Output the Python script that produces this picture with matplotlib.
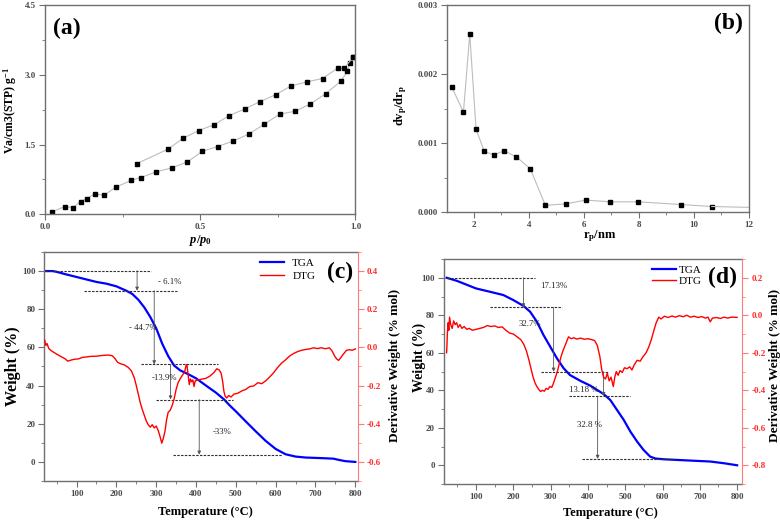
import matplotlib
matplotlib.use('Agg')
import matplotlib.pyplot as plt
import matplotlib.ticker as ticker

plt.rcParams['font.family'] = 'Liberation Serif'
plt.rcParams['font.weight'] = 'bold'
plt.rcParams['axes.labelweight'] = 'bold'
plt.rcParams['mathtext.fontset'] = 'custom'
plt.rcParams['mathtext.rm'] = 'Liberation Serif:bold'
plt.rcParams['mathtext.it'] = 'Liberation Serif:bold:italic'
plt.rcParams['mathtext.bf'] = 'Liberation Serif:bold'

# (a) N2 isotherm
p_ads = [0.024, 0.064, 0.090, 0.115, 0.134, 0.160, 0.190, 0.228, 0.278, 0.309, 0.358, 0.408,
         0.459, 0.507, 0.556, 0.607, 0.656, 0.706, 0.756, 0.806, 0.855, 0.905, 0.954, 0.974,
         0.982, 0.993]
v_ads = [0.057, 0.165, 0.144, 0.273, 0.337, 0.438, 0.409, 0.581, 0.732, 0.790, 0.912, 0.998,
         1.127, 1.357, 1.457, 1.579, 1.723, 1.938, 2.154, 2.218, 2.376, 2.599, 2.871, 3.080,
         3.252, 3.388]
p_des = [0.993, 0.964, 0.944, 0.894, 0.844, 0.793, 0.744, 0.693, 0.644, 0.594, 0.544, 0.495,
         0.445, 0.396, 0.296]
v_des = [3.388, 3.144, 3.151, 2.922, 2.850, 2.764, 2.577, 2.426, 2.268, 2.125, 1.924, 1.802,
         1.637, 1.400, 1.091]

# (b) pore size distribution
r_p = [1.20, 1.62, 1.85, 2.08, 2.38, 2.72, 3.10, 3.55, 4.05, 4.60, 5.34, 6.07, 6.94, 7.98,
       9.55, 10.65]
dv_p = [0.00181, 0.00145, 0.00258, 0.00120, 0.00088, 0.00083, 0.00089, 0.00080, 0.00063,
        0.00010, 0.00012, 0.000175, 0.00015, 0.00015, 0.00011, 0.000082]
r_tail = [10.65, 12.5]
dv_tail = [0.000082, 0.000065]

# (c) TGA / DTG
T_tga_c = [20, 40, 50, 75, 100, 125, 150, 175, 200, 225, 240, 255, 270, 285, 300, 315, 330,
           345, 360, 380, 400, 425, 450, 470, 485, 500, 525, 550, 575, 600, 625, 650, 675,
           700, 725, 745, 760, 775, 800]
w_tga_c = [100, 100, 99.6, 98.2, 96.9, 95.6, 94.3, 93.4, 92.0, 89.7, 88.0, 85.0, 81.0, 76.0,
           70.0, 62.0, 55.5, 50.5, 48.0, 46.0, 43.8, 40.0, 36.3, 32.8, 29.5, 26.5, 21.2, 16.0,
           11.0, 6.8, 4.0, 2.8, 2.3, 2.1, 1.9, 1.7, 1.0, 0.4, 0.0]
T_dtg_c = [20, 23, 26, 30, 35, 40, 50, 60, 70, 78, 85, 95, 105, 115, 125, 135, 150, 165, 180,
           190, 197, 203, 210, 220, 230, 238, 245, 250, 255, 260, 265, 270, 275, 280, 285, 290,
           295, 300, 305, 310, 314, 318, 322, 326, 330, 335, 340, 345, 350, 355, 360, 366, 371,
           375, 377, 380, 383, 386, 389, 392, 395, 398, 402, 407, 415, 425, 435, 445, 452, 458,
           463, 467, 470, 473, 477, 482, 488, 495, 505, 515, 525, 535, 545, 555, 565, 575, 585,
           595, 605, 615, 625, 635, 645, 655, 665, 675, 685, 695, 705, 715, 725, 735, 742, 748,
           753, 758, 763, 770, 778, 785, 792, 800]
d_dtg_c = [0.038, 0.010, 0.020, -0.005, -0.015, -0.022, -0.035, -0.047, -0.058, -0.072, -0.067,
           -0.062, -0.060, -0.052, -0.050, -0.047, -0.046, -0.042, -0.040, -0.044, -0.060,
           -0.078, -0.085, -0.092, -0.105, -0.124, -0.160, -0.200, -0.245, -0.290, -0.325,
           -0.355, -0.385, -0.405, -0.418, -0.405, -0.422, -0.412, -0.435, -0.470, -0.502,
           -0.475, -0.440, -0.380, -0.340, -0.330, -0.305, -0.270, -0.220, -0.185, -0.165,
           -0.145, -0.130, -0.095, -0.090, -0.140, -0.195, -0.165, -0.180, -0.170, -0.205,
           -0.175, -0.172, -0.170, -0.166, -0.162, -0.150, -0.132, -0.112, -0.118, -0.135,
           -0.180, -0.230, -0.255, -0.265, -0.252, -0.260, -0.245, -0.240, -0.228, -0.220,
           -0.205, -0.202, -0.185, -0.190, -0.175, -0.155, -0.132, -0.105, -0.082, -0.065,
           -0.045, -0.032, -0.022, -0.015, -0.011, -0.008, -0.002, -0.006, -0.002, -0.007,
           -0.002, -0.020, -0.045, -0.060, -0.068, -0.055, -0.035, -0.015, -0.012, -0.015,
           -0.008]
# mass-loss steps: (T of arrow, W from, W to) and dotted levels (W, T from, T to)
steps_c = [(252, 100.2, 89.7), (295, 89.7, 51.1), (336, 51.1, 32.7), (408, 32.7, 3.8)]
levels_c = [(100.2, 20, 288), (89.7, 118, 351), (51.1, 263, 456), (32.7, 300, 494), (3.8, 343, 615)]
labels_c = ['- 6.1%', '- 44.7%', '-13.9%', '-33%']
label_pos_c = [(305, 94.3), (232, 70.4), (288, 43.8), (443, 15.5)]

# (d) TGA / DTG
T_tga_d = [21, 48, 100, 138, 173, 200, 227, 245, 263, 281, 299, 317, 335, 352, 379, 406, 442,
           460, 478, 496, 514, 532, 549, 567, 581, 603, 675, 728, 764, 800]
w_tga_d = [100, 98.4, 94.3, 92.5, 90.8, 88.1, 85.0, 81.9, 76.6, 69.4, 63.2, 57.0, 51.7, 48.1,
           45.1, 42.5, 38.0, 34.8, 29.5, 24.2, 17.9, 12.6, 8.2, 4.6, 3.6, 3.2, 2.5, 2.0, 1.1, 0.0]
T_dtg_d = [21, 22, 23, 25, 27, 29, 32, 36, 40, 44, 48, 52, 57, 62, 68, 75, 82, 90, 100, 110,
           120, 130, 140, 150, 160, 170, 180, 190, 200, 210, 220, 228, 235, 242, 248, 253, 258,
           263, 268, 273, 278, 283, 288, 293, 298, 303, 308, 313, 318, 323, 328, 333, 338, 343,
           348, 355, 362, 370, 380, 390, 400, 410, 418, 425, 432, 437, 442, 447, 452, 457, 462,
           468, 472, 476, 481, 486, 492, 498, 505, 512, 518, 524, 532, 540, 548, 556, 563, 570,
           577, 583, 590, 596, 605, 615, 625, 635, 645, 655, 665, 675, 685, 695, 705, 715, 722,
           728, 734, 745, 755, 765, 775, 785, 800]
d_dtg_d = [-0.200, -0.160, -0.100, -0.040, -0.080, -0.010, -0.050, -0.070, -0.030, -0.050,
           -0.040, -0.065, -0.050, -0.070, -0.060, -0.075, -0.070, -0.080, -0.075, -0.070,
           -0.065, -0.055, -0.060, -0.057, -0.065, -0.062, -0.080, -0.095, -0.100, -0.115,
           -0.130, -0.155, -0.190, -0.240, -0.290, -0.330, -0.360, -0.380, -0.395, -0.407,
           -0.400, -0.405, -0.390, -0.395, -0.380, -0.385, -0.360, -0.330, -0.300, -0.260,
           -0.220, -0.190, -0.165, -0.140, -0.115, -0.125, -0.120, -0.127, -0.122, -0.128,
           -0.125, -0.130, -0.135, -0.160, -0.220, -0.290, -0.330, -0.340, -0.310, -0.350,
           -0.330, -0.380, -0.330, -0.300, -0.320, -0.295, -0.305, -0.280, -0.285, -0.275,
           -0.292, -0.265, -0.240, -0.245, -0.220, -0.200, -0.170, -0.130, -0.080, -0.040,
           -0.010, -0.020, -0.005, -0.012, -0.004, -0.010, -0.002, -0.008, 0.000, -0.010,
           -0.005, -0.012, -0.007, -0.015, -0.010, -0.035, -0.015, -0.012, -0.017, -0.010,
           -0.015, -0.010, -0.011]
steps_d = [(227, 100, 84.2), (308, 84.2, 49.9), (442, 49.9, 36.9), (426, 36.9, 3.4)]
levels_d = [(100, 23, 258), (84.2, 138, 330), (49.9, 274, 455), (36.9, 350, 512), (3.4, 384, 633)]
labels_d = ['17.13%', '32.7%', '13.18 %', '32.8 %']
label_pos_d = [(272, 95.6), (214, 75.3), (348, 40.1), (370, 21.5)]

W, H = 780.0, 520.0
GREY = '#707070'
TXT = '#4a4a4a'
TICK_FS = 6.5


def fx(x):
    return x / W


def fy(y):
    return 1 - y / H


def style_ax(ax):
    for s in ax.spines.values():
        s.set_color(GREY)
        s.set_linewidth(1.0)
    ax.tick_params(which='both', direction='out', colors=GREY, labelcolor=TXT, labelsize=TICK_FS)
    ax.tick_params(which='major', length=4, pad=2.5)
    ax.tick_params(which='minor', length=2.5)


def put_labels(ax, xl, xpos, xs, yl, ypos, ys):
    ax.set_xlabel(xl, fontsize=xs, va='center', ha='center')
    ax.xaxis.set_label_coords(fx(xpos[0]), fy(xpos[1]), transform=fig.transFigure)
    ax.set_ylabel(yl, fontsize=ys, va='center', ha='center')
    ax.yaxis.set_label_coords(fx(ypos[0]), fy(ypos[1]), transform=fig.transFigure)


fig = plt.figure(figsize=(7.8, 5.2), dpi=100)

# ---- (a)
ax_a = fig.add_axes([0.0577, 0.588, 0.398, 0.402])
ax_a.plot(p_ads, v_ads, color='#bdbdbd', lw=0.8, marker='s', ms=3.4, mfc='k', mec='k')
ax_a.plot(p_des, v_des, color='#bdbdbd', lw=0.8, marker='s', ms=3.4, mfc='k', mec='k')
ax_a.set_xlim(0, 1.0)
ax_a.set_ylim(0, 4.5)
ax_a.xaxis.set_major_locator(ticker.MultipleLocator(0.5))
ax_a.xaxis.set_minor_locator(ticker.MultipleLocator(0.25))
ax_a.yaxis.set_major_locator(ticker.MultipleLocator(1.5))
ax_a.yaxis.set_minor_locator(ticker.MultipleLocator(0.75))
ax_a.xaxis.set_major_formatter(ticker.FormatStrFormatter('%.1f'))
ax_a.yaxis.set_major_formatter(ticker.FormatStrFormatter('%.1f'))
style_ax(ax_a)
put_labels(ax_a, r'$p/p_0$', (200, 240), 9, r'Va/cm3(STP) g$^{-1}$', (10, 110), 8.5)
fig.text(fx(53), fy(28), '(a)', fontsize=17, fontweight='bold', va='center', ha='left')

# ---- (b)
ax_b = fig.add_axes([0.573, 0.592, 0.387, 0.398])
ax_b.plot(r_p, dv_p, color='#bdbdbd', lw=0.8, marker='s', ms=3.4, mfc='k', mec='k')
ax_b.plot(r_tail, dv_tail, color='#bdbdbd', lw=0.8)
ax_b.set_xlim(1.02, 12)
ax_b.set_ylim(0, 0.003)
ax_b.xaxis.set_major_locator(ticker.MultipleLocator(2))
ax_b.xaxis.set_minor_locator(ticker.MultipleLocator(1))
ax_b.yaxis.set_major_locator(ticker.MultipleLocator(0.001))
ax_b.yaxis.set_minor_locator(ticker.MultipleLocator(0.0005))
ax_b.yaxis.set_major_formatter(ticker.FormatStrFormatter('%.3f'))
style_ax(ax_b)
put_labels(ax_b, r'r$_\mathrm{p}$/nm', (600, 236), 9, r'dv$_\mathrm{p}$/dr$_\mathrm{p}$',
           (401, 105), 9)
fig.text(fx(743), fy(23), '(b)', fontsize=17, fontweight='bold', va='center', ha='right')


def thermo_panel(rect, T_tga, w_tga, T_dtg, d_dtg, dlim, steps, levels, labels, label_pos,
                 xlim, leg_xy, leg_pad, leg_sp, lab_pos, ylab_size):
    ax = fig.add_axes(rect)
    ax2 = ax.twinx()
    l1, = ax.plot(T_tga, w_tga, color='#0000ff', lw=1.6, label='TGA')
    l2, = ax2.plot(T_dtg, d_dtg, color='#ff0000', lw=1.0, label='DTG')
    for y, x0, x1 in levels:
        ax.hlines(y, x0, x1, colors='#303030', linestyles=(0, (2.2, 1.2)), lw=0.8)
    for x, y0, y1 in steps:
        ax.annotate('', xy=(x, y1), xytext=(x, y0),
                    arrowprops=dict(arrowstyle='-|>', color='#555555', lw=0.6,
                                    mutation_scale=5, shrinkA=0, shrinkB=0))
    for txt, (x, y) in zip(labels, label_pos):
        ax.text(x, y, txt, fontsize=6.3, fontweight='normal', color='#222222',
                ha='left', va='center')
    ax.set_xlim(*xlim)
    ax.set_ylim(-10, 110)
    ax2.set_ylim(*dlim)
    ax.xaxis.set_major_locator(ticker.MultipleLocator(100))
    ax.xaxis.set_minor_locator(ticker.MultipleLocator(50))
    ax.yaxis.set_major_locator(ticker.MultipleLocator(20))
    ax.yaxis.set_minor_locator(ticker.MultipleLocator(10))
    ax2.yaxis.set_major_locator(ticker.MultipleLocator(0.2))
    ax2.yaxis.set_minor_locator(ticker.MultipleLocator(0.1))
    ax2.yaxis.set_major_formatter(ticker.FormatStrFormatter('%.1f'))
    style_ax(ax)
    ax.spines['right'].set_visible(False)
    for s in ['left', 'top', 'bottom']:
        ax2.spines[s].set_visible(False)
    ax2.spines['right'].set_color('#ff7a7a')
    ax2.tick_params(which='both', direction='out', colors='#ff7a7a', labelcolor='#ff2a2a',
                    labelsize=TICK_FS)
    ax2.tick_params(which='major', length=4, pad=2.5)
    ax2.tick_params(which='minor', length=2.5)
    put_labels(ax, 'Temperature (°C)', lab_pos[0], 9, 'Weight (%)', lab_pos[1], ylab_size)
    ax2.set_ylabel('Derivative Weight (% mol)', fontsize=9.5, va='center', ha='center')
    ax2.yaxis.set_label_coords(fx(lab_pos[2][0]), fy(lab_pos[2][1]), transform=fig.transFigure)
    ax.legend([l1, l2], ['TGA', 'DTG'], loc='upper left',
              bbox_to_anchor=(fx(leg_xy[0]), fy(leg_xy[1])), bbox_transform=fig.transFigure,
              frameon=False, handlelength=2.2, handletextpad=leg_pad, labelspacing=leg_sp,
              borderaxespad=0, borderpad=0, prop={'weight': 'normal', 'size': 8})
    return ax, ax2


thermo_panel([0.0568, 0.075, 0.4018, 0.4404], T_tga_c, w_tga_c, T_dtg_c, d_dtg_c, (-0.7, 0.5),
             steps_c, levels_c, labels_c, label_pos_c, (19, 806), (260, 258), 0.7, 0.3,
             [(205, 512), (13, 366), (395, 365)], 11.5)
fig.text(fx(353), fy(272), '(c)', fontsize=17, fontweight='bold', va='center', ha='right')
thermo_panel([0.5692, 0.0692, 0.3825, 0.4327], T_tga_d, w_tga_d, T_dtg_d, d_dtg_d, (-0.9, 0.3),
             steps_d, levels_d, labels_d, label_pos_d, (14, 814), (652, 265), 0.2, 0.1,
             [(610, 513), (419, 357), (775, 365)], 10)
fig.text(fx(737), fy(277), '(d)', fontsize=17, fontweight='bold', va='center', ha='right')

fig.savefig('out.png', dpi=100)
